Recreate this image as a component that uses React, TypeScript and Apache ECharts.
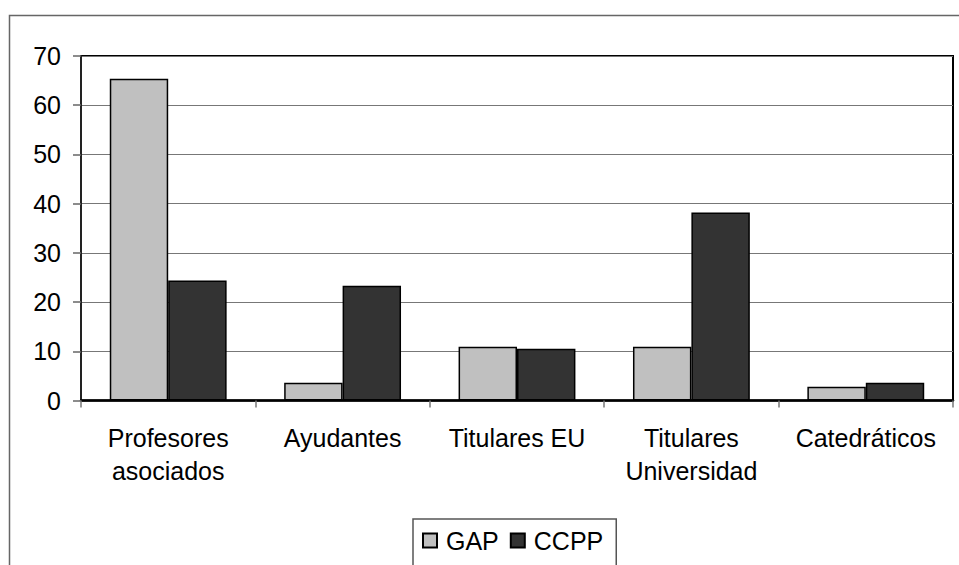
import React, { useEffect, useRef } from "react";
import * as echarts from "echarts";

const categories = [
  "Profesores\nasociados",
  "Ayudantes",
  "Titulares EU",
  "Titulares\nUniversidad",
  "Catedráticos",
];
const gapValues = [65.4, 3.6, 10.9, 10.9, 2.8];
const ccppValues = [24.4, 23.3, 10.5, 38.2, 3.6];
const seriesNames = ["GAP", "CCPP"];
const yMin = 0;
const yMax = 70;
const yInterval = 10;

const FONT = "'Liberation Sans', Arial, sans-serif";

export default function App() {
  const ref = useRef<HTMLDivElement>(null);
  useEffect(() => {
    if (!ref.current) return;
    const chart = echarts.init(ref.current, null, { renderer: "svg" });
    chart.setOption({
      animation: false,
      backgroundColor: "#ffffff",
      textStyle: { fontFamily: FONT },
      grid: {
        left: 81,
        right: 6,
        top: 56,
        bottom: 164.5,
        show: true,
        borderColor: "#000000",
        borderWidth: 2,
        containLabel: false,
      },
      graphic: [
        {
          type: "rect",
          shape: { x: 9.5, y: 15.5, width: 970, height: 600 },
          style: { fill: "none", stroke: "#666666", lineWidth: 1.5 },
          silent: true,
          z: -10,
        },
      ],
      legend: {
        left: 413,
        top: 519,
        orient: "horizontal",
        padding: [9, 13, 40, 9],
        itemGap: 11,
        itemWidth: 14,
        itemHeight: 14,
        borderColor: "#555555",
        borderWidth: 1.5,
        icon: "rect",
        data: seriesNames,
        textStyle: {
          fontSize: 25,
          color: "#000000",
          fontFamily: FONT,
          padding: [0, 0, 0, 4],
        },
      },
      xAxis: {
        type: "category",
        data: categories,
        axisLine: { lineStyle: { color: "#000000", width: 2.5 } },
        axisTick: { show: true, length: 7, lineStyle: { color: "#777777", width: 1.5 } },
        axisLabel: {
          interval: 0,
          margin: 21,
          fontSize: 25,
          lineHeight: 33,
          color: "#000000",
          fontFamily: FONT,
          align: "center",
        },
      },
      yAxis: {
        type: "value",
        min: yMin,
        max: yMax,
        interval: yInterval,
        axisLine: { show: true, lineStyle: { color: "#222222", width: 2 } },
        axisTick: { show: true, length: 8, lineStyle: { color: "#666666", width: 1.5 } },
        splitLine: { show: true, lineStyle: { color: "#777777", width: 1.2 } },
        axisLabel: {
          margin: 20,
          fontSize: 25,
          color: "#000000",
          fontFamily: FONT,
        },
      },
      series: [
        {
          name: seriesNames[0],
          type: "bar",
          data: gapValues,
          barGap: "0%",
          barCategoryGap: "33%",
          itemStyle: { color: "#c0c0c0", borderColor: "#000000", borderWidth: 1.5 },
        },
        {
          name: seriesNames[1],
          type: "bar",
          data: ccppValues,
          barGap: "0%",
          barCategoryGap: "33%",
          itemStyle: { color: "#333333", borderColor: "#000000", borderWidth: 1.5 },
        },
      ],
    });
    return () => chart.dispose();
  }, []);
  return (
    <div
      ref={ref}
      style={{ position: "absolute", left: 0, top: 0, width: 959, height: 565 }}
    />
  );
}
